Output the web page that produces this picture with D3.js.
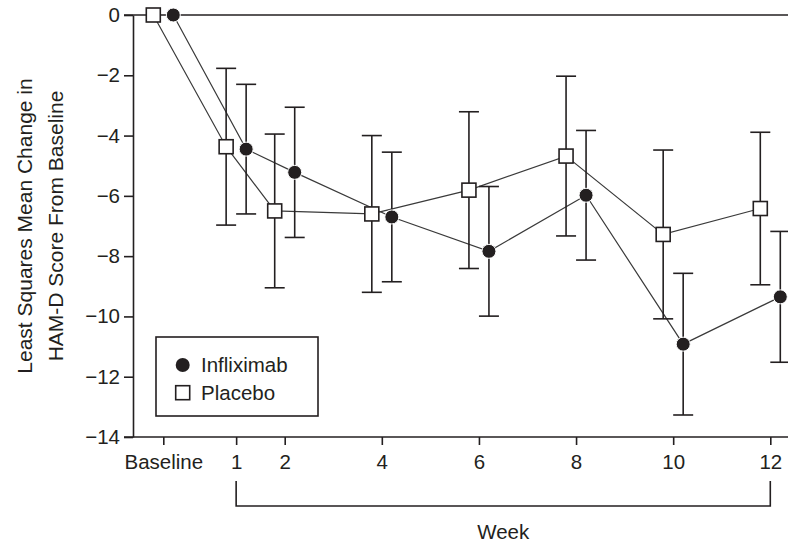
<!DOCTYPE html>
<html><head><meta charset="utf-8">
<script src="https://cdn.jsdelivr.net/npm/d3@7"></script>
<style>
body{margin:0;background:#fff;}
svg{display:block;}
text{font-family:'Liberation Sans',Arial,sans-serif;fill:#231f20;}
</style></head>
<body><svg id="chart" width="788" height="549"></svg>
<script>
// ---- data ----
const categories = ["Baseline", "1", "2", "4", "6", "8", "10", "12"];
const weekPos = [-0.5, 1, 2, 4, 6, 8, 10, 12];
const infliximabMean = [0, -4.45, -5.22, -6.70, -7.84, -5.98, -10.92, -9.35];
const infliximabErr  = [null, 2.15, 2.16, 2.15, 2.15, 2.15, 2.35, 2.17];
const placeboMean = [0, -4.37, -6.50, -6.60, -5.81, -4.68, -7.28, -6.42];
const placeboErr  = [null, 2.6, 2.55, 2.6, 2.6, 2.65, 2.8, 2.53];
const yTicks = [0, -2, -4, -6, -8, -10, -12, -14];
const seriesNames = ["Infliximab", "Placebo"];

// ---- layout ----
const svg = d3.select("#chart");
const x = d3.scaleLinear().domain([-0.5, 12]).range([163.3, 770.3]);
const y = d3.scaleLinear().domain([-14, 0]).range([437, 15]);
const axisLeftX = 133, rightEdge = 788;
const off = 10; // horizontal dodge in px
const ink = "#231f20";
const fs = 20.5;

// reference line at 0 and bottom axis line
svg.append("line").attr("x1", axisLeftX - 9).attr("x2", rightEdge)
  .attr("y1", y(0)).attr("y2", y(0)).attr("stroke", ink).attr("stroke-width", 1.6);
svg.append("line").attr("x1", axisLeftX - 9).attr("x2", rightEdge)
  .attr("y1", y(-14)).attr("y2", y(-14)).attr("stroke", ink).attr("stroke-width", 1.6);

// y axis
const yAxis = svg.append("g").attr("transform", `translate(${axisLeftX},0)`)
  .call(d3.axisLeft(y).tickValues(yTicks).tickSize(9).tickSizeOuter(0).tickPadding(4)
    .tickFormat(d => d === 0 ? "0" : "\u2212" + Math.abs(d)));
yAxis.select(".domain").attr("stroke", ink).attr("stroke-width", 1.6);
yAxis.selectAll(".tick line").attr("stroke", ink).attr("stroke-width", 1.6);
yAxis.selectAll(".tick text").attr("font-size", fs).style("fill", ink)
  .attr("font-family", "'Liberation Sans',Arial,sans-serif");

// x axis ticks
const xAxis = svg.append("g").attr("transform", `translate(0,${y(-14)})`)
  .call(d3.axisBottom(x).tickValues(weekPos).tickSize(8).tickPadding(9)
    .tickFormat((d, i) => categories[i]));
xAxis.select(".domain").remove();
xAxis.selectAll(".tick line").attr("stroke", ink).attr("stroke-width", 1.6);
xAxis.selectAll(".tick text").attr("font-size", fs).style("fill", ink)
  .attr("font-family", "'Liberation Sans',Arial,sans-serif");

// week bracket
const bTop = 481, bBot = 506;
svg.append("path")
  .attr("d", `M${x(1)},${bTop}V${bBot}H${x(12)}V${bTop}`)
  .attr("fill", "none").attr("stroke", ink).attr("stroke-width", 1.6);
svg.append("text").attr("x", (x(1) + x(12)) / 2).attr("y", 539)
  .attr("text-anchor", "middle").attr("font-size", fs).text("Week");

// y title
const yt = svg.append("text").attr("transform", "translate(0,226) rotate(-90)")
  .attr("text-anchor", "middle").attr("font-size", 21);
yt.append("tspan").attr("x", 0).attr("y", 32).text("Least Squares Mean Change in");
yt.append("tspan").attr("x", 0).attr("y", 63).text("HAM-D Score From Baseline");

// series
const inf = weekPos.map((w, i) => ({px: x(w) + off, m: infliximabMean[i], e: infliximabErr[i]}));
const pla = weekPos.map((w, i) => ({px: x(w) - off, m: placeboMean[i], e: placeboErr[i]}));

const line = d3.line().x(d => d.px).y(d => y(d.m));
[pla, inf].forEach(s => {
  svg.append("path").datum(s).attr("d", line).attr("fill", "none")
    .attr("stroke", "#3a3a3a").attr("stroke-width", 1.2);
});

function errorBars(s) {
  const g = svg.append("g").attr("stroke", ink).attr("stroke-width", 1.6).attr("fill", "none");
  s.filter(d => d.e != null).forEach(d => {
    g.append("line").attr("x1", d.px).attr("x2", d.px).attr("y1", y(d.m + d.e)).attr("y2", y(d.m - d.e));
    g.append("line").attr("x1", d.px - 10).attr("x2", d.px + 10).attr("y1", y(d.m + d.e)).attr("y2", y(d.m + d.e));
    g.append("line").attr("x1", d.px - 10).attr("x2", d.px + 10).attr("y1", y(d.m - d.e)).attr("y2", y(d.m - d.e));
  });
}
errorBars(pla);
errorBars(inf);

const sq = 14;
svg.append("g").selectAll("rect").data(pla).join("rect")
  .attr("x", d => d.px - sq / 2).attr("y", d => y(d.m) - sq / 2)
  .attr("width", sq).attr("height", sq)
  .attr("fill", "#fff").attr("stroke", ink).attr("stroke-width", 1.6);
svg.append("g").selectAll("circle").data(inf).join("circle")
  .attr("cx", d => d.px).attr("cy", d => y(d.m)).attr("r", 7)
  .attr("fill", ink).attr("stroke", "#fff").attr("stroke-width", 1);

// legend
const lg = svg.append("g");
lg.append("rect").attr("x", 156).attr("y", 337).attr("width", 162).attr("height", 79)
  .attr("fill", "#fff").attr("stroke", ink).attr("stroke-width", 1.6);
lg.append("circle").attr("cx", 182.7).attr("cy", 365).attr("r", 7).attr("fill", ink);
lg.append("rect").attr("x", 182.7 - 7).attr("y", 392.7 - 7).attr("width", 14).attr("height", 14)
  .attr("fill", "#fff").attr("stroke", ink).attr("stroke-width", 1.6);
lg.append("text").attr("x", 201).attr("y", 372).attr("font-size", fs).text(seriesNames[0]);
lg.append("text").attr("x", 201).attr("y", 400).attr("font-size", fs).text(seriesNames[1]);
</script></body></html>
